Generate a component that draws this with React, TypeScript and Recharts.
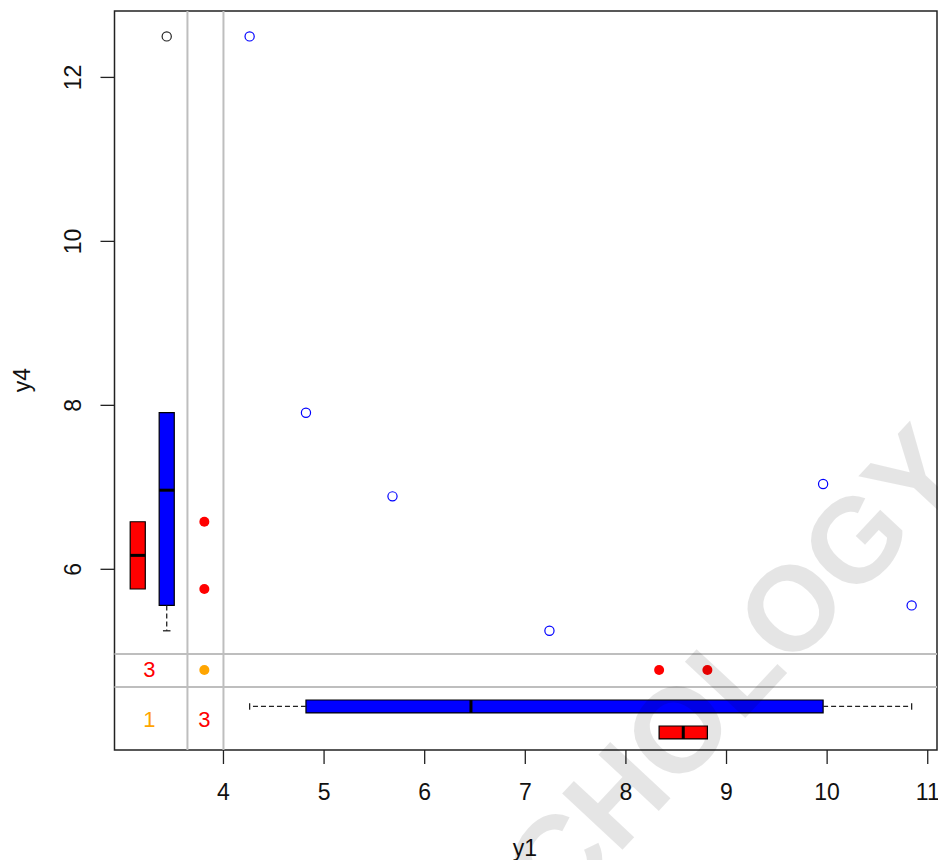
import React from "react";
import {
  ComposedChart,
  XAxis,
  YAxis,
  Scatter,
  ReferenceArea,
  ReferenceLine,
} from "recharts";

// paired values, null = missing
const y1: (number | null)[] = [null, null, null, 8.81, 8.33, 9.96, 7.24, 4.26, 10.84, 4.82, 5.68];
const y4: (number | null)[] = [6.58, 5.76, null, null, null, 7.04, 5.25, 12.5, 5.56, 7.91, 6.89];

const xTicks = [4, 5, 6, 7, 8, 9, 10, 11];
const yTicks = [6, 8, 10, 12];

const X_DOMAIN: [number, number] = [2.917, 11.092];
const Y_DOMAIN: [number, number] = [3.796, 12.81];

// margin layout, in data units
const X_MISS = 3.81; // column where missing y1 are drawn
const Y_MISS = 4.772; // row where missing y4 are drawn
const X_SEP = [3.642, 4.0];
const Y_SEP = [4.565, 4.967];
const X_COUNT = 3.264;
const Y_COUNT = 4.162;
const LEFT_BOX = { red: 3.148, blue: 3.436, half: 0.075 };
const BOTTOM_BOX = { blue: 4.327, red: 4.01, half: 0.079 };

const BLUE = "#0000ff";
const RED = "#ff0000";
const ORANGE = "#ffa500";
const FONT = "'Liberation Sans', Arial, sans-serif";

function fivenum(vals: number[]) {
  const x = [...vals].sort((a, b) => a - b);
  const n = x.length;
  const n4 = Math.floor((n + 3) / 2) / 2;
  const d = [1, n4, (n + 1) / 2, n + 1 - n4, n];
  return d.map((v) => 0.5 * (x[Math.floor(v) - 1] + x[Math.ceil(v) - 1]));
}

function boxStats(vals: number[]) {
  const [, q1, med, q3] = fivenum(vals);
  const iqr = q3 - q1;
  const inside = vals.filter((v) => v >= q1 - 1.5 * iqr && v <= q3 + 1.5 * iqr);
  return {
    q1,
    med,
    q3,
    lo: Math.min(...inside),
    hi: Math.max(...inside),
    out: vals.filter((v) => v < q1 - 1.5 * iqr || v > q3 + 1.5 * iqr),
  };
}

const idx = y1.map((_, i) => i);
const both = idx.filter((i) => y1[i] != null && y4[i] != null);
const y1Miss = idx.filter((i) => y1[i] == null && y4[i] != null);
const y4Miss = idx.filter((i) => y4[i] == null && y1[i] != null);
const allMiss = idx.filter((i) => y1[i] == null && y4[i] == null);

const obsPts = both.map((i) => ({ x: y1[i] as number, y: y4[i] as number }));
const y1MissPts = y1Miss.map((i) => ({ x: X_MISS, y: y4[i] as number }));
const y4MissPts = y4Miss.map((i) => ({ x: y1[i] as number, y: Y_MISS }));
const allMissPts = allMiss.map(() => ({ x: X_MISS, y: Y_MISS }));

const leftBlue = boxStats(both.map((i) => y4[i] as number));
const leftRed = boxStats(y1Miss.map((i) => y4[i] as number));
const botBlue = boxStats(both.map((i) => y1[i] as number));
const botRed = boxStats(y4Miss.map((i) => y1[i] as number));

const outPts = leftBlue.out.map((v) => ({ x: LEFT_BOX.blue, y: v }));

const counts = [
  { x: X_COUNT, y: Y_MISS, label: String(y4.filter((v) => v == null).length), color: RED },
  { x: X_MISS, y: Y_COUNT, label: String(y1.filter((v) => v == null).length), color: RED },
  { x: X_COUNT, y: Y_COUNT, label: String(allMiss.length), color: ORANGE },
];

const WHISK = { stroke: "#222", strokeWidth: 1.3 };

function vBox(s: ReturnType<typeof boxStats>, c: number, h: number, fill: string, key: string) {
  const els = [
    <ReferenceArea key={key + "b"} x1={c - h} x2={c + h} y1={s.q1} y2={s.q3} fill={fill} fillOpacity={1} stroke="#000" strokeWidth={1.2} />,
    <ReferenceLine key={key + "m"} segment={[{ x: c - h, y: s.med }, { x: c + h, y: s.med }]} stroke="#000" strokeWidth={3} />,
  ];
  if (s.lo < s.q1) {
    els.push(<ReferenceLine key={key + "wl"} segment={[{ x: c, y: s.q1 }, { x: c, y: s.lo }]} {...WHISK} strokeDasharray="5 3" />);
    els.push(<ReferenceLine key={key + "sl"} segment={[{ x: c - h / 2, y: s.lo }, { x: c + h / 2, y: s.lo }]} {...WHISK} />);
  }
  if (s.hi > s.q3) {
    els.push(<ReferenceLine key={key + "wh"} segment={[{ x: c, y: s.q3 }, { x: c, y: s.hi }]} {...WHISK} strokeDasharray="5 3" />);
    els.push(<ReferenceLine key={key + "sh"} segment={[{ x: c - h / 2, y: s.hi }, { x: c + h / 2, y: s.hi }]} {...WHISK} />);
  }
  return els;
}

function hBox(s: ReturnType<typeof boxStats>, c: number, h: number, fill: string, key: string) {
  const els = [
    <ReferenceArea key={key + "b"} y1={c - h} y2={c + h} x1={s.q1} x2={s.q3} fill={fill} fillOpacity={1} stroke="#000" strokeWidth={1.2} />,
    <ReferenceLine key={key + "m"} segment={[{ y: c - h, x: s.med }, { y: c + h, x: s.med }]} stroke="#000" strokeWidth={3} />,
  ];
  if (s.lo < s.q1) {
    els.push(<ReferenceLine key={key + "wl"} segment={[{ y: c, x: s.q1 }, { y: c, x: s.lo }]} {...WHISK} strokeDasharray="5 3" />);
    els.push(<ReferenceLine key={key + "sl"} segment={[{ y: c - h / 2, x: s.lo }, { y: c + h / 2, x: s.lo }]} {...WHISK} />);
  }
  if (s.hi > s.q3) {
    els.push(<ReferenceLine key={key + "wh"} segment={[{ y: c, x: s.q3 }, { y: c, x: s.hi }]} {...WHISK} strokeDasharray="5 3" />);
    els.push(<ReferenceLine key={key + "sh"} segment={[{ y: c - h / 2, x: s.hi }, { y: c + h / 2, x: s.hi }]} {...WHISK} />);
  }
  return els;
}

const openCircle = (color: string) => (p: any) => (
  <circle cx={p.cx} cy={p.cy} r={4.6} fill="none" stroke={color} strokeWidth={1.2} />
);
const dot = (color: string) => (p: any) => <circle cx={p.cx} cy={p.cy} r={5} fill={color} />;

const XTick = (p: any) => (
  <text x={p.x} y={p.y + 26} textAnchor="middle" dominantBaseline="central" fontSize={23} fill="#111" fontFamily={FONT}>
    {p.payload.value}
  </text>
);

const YTick = (p: any) => {
  const cx = p.x - 25;
  return (
    <text
      x={cx}
      y={p.y}
      transform={`rotate(-90, ${cx}, ${p.y})`}
      textAnchor="middle"
      dominantBaseline="central"
      fontSize={23}
      fill="#111"
      fontFamily={FONT}
    >
      {p.payload.value}
    </text>
  );
};

export default function App() {
  return (
    <div style={{ position: "relative", width: 938, height: 860, background: "#fff" }}>
      <style>{"body{margin:0}"}</style>
      <ComposedChart width={938} height={860} margin={{ top: 11, right: 1, bottom: 30, left: 0 }}>
        <XAxis
          type="number"
          dataKey="x"
          domain={X_DOMAIN}
          ticks={xTicks}
          interval={0}
          allowDataOverflow
          height={80}
          axisLine={false}
          tickSize={14}
          tickLine={{ stroke: "#222", strokeWidth: 1.3 }}
          tick={XTick}
        />
        <YAxis
          type="number"
          dataKey="y"
          domain={Y_DOMAIN}
          ticks={yTicks}
          interval={0}
          allowDataOverflow
          width={114.5}
          axisLine={false}
          tickSize={14}
          tickLine={{ stroke: "#222", strokeWidth: 1.3 }}
          tick={YTick}
        />
        {X_SEP.map((v) => (
          <ReferenceLine key={"xs" + v} x={v} stroke="#bebebe" strokeWidth={2} />
        ))}
        {Y_SEP.map((v) => (
          <ReferenceLine key={"ys" + v} y={v} stroke="#bebebe" strokeWidth={2} />
        ))}
        {vBox(leftRed, LEFT_BOX.red, LEFT_BOX.half, RED, "lr")}
        {vBox(leftBlue, LEFT_BOX.blue, LEFT_BOX.half, BLUE, "lb")}
        {hBox(botBlue, BOTTOM_BOX.blue, BOTTOM_BOX.half, BLUE, "bb")}
        {hBox(botRed, BOTTOM_BOX.red, BOTTOM_BOX.half, RED, "br")}
        <ReferenceArea
          x1={X_DOMAIN[0]}
          x2={X_DOMAIN[1]}
          y1={Y_DOMAIN[0]}
          y2={Y_DOMAIN[1]}
          fill="none"
          stroke="#222"
          strokeWidth={1.5}
          ifOverflow="visible"
        />
        <Scatter data={obsPts} shape={openCircle(BLUE)} isAnimationActive={false} />
        <Scatter data={outPts} shape={openCircle("#222")} isAnimationActive={false} />
        <Scatter data={y1MissPts} shape={dot(RED)} isAnimationActive={false} />
        <Scatter data={y4MissPts} shape={dot(RED)} isAnimationActive={false} />
        <Scatter data={allMissPts} shape={dot(ORANGE)} isAnimationActive={false} />
        <Scatter
          data={counts}
          isAnimationActive={false}
          shape={(p: any) => (
            <text x={p.cx} y={p.cy} textAnchor="middle" dominantBaseline="central" fontSize={22} fill={p.payload.color} fontFamily={FONT}>
              {p.payload.label}
            </text>
          )}
        />
      </ComposedChart>
      <svg width={938} height={860} style={{ position: "absolute", left: 0, top: 0, pointerEvents: "none" }}>
        <text x={525} y={848} textAnchor="middle" dominantBaseline="central" fontSize={23} fill="#111" fontFamily={FONT}>
          y1
        </text>
        <text
          x={22}
          y={380}
          transform="rotate(-90, 22, 380)"
          textAnchor="middle"
          dominantBaseline="central"
          fontSize={23}
          fill="#111"
          fontFamily={FONT}
        >
          y4
        </text>
        <text
          transform="translate(683,785) rotate(-47)"
          textAnchor="middle"
          fontSize={120}
          fontWeight="bold"
          fill="#000"
          fillOpacity={0.1}
          fontFamily={FONT}
        >
          PSYCHOLOGY
        </text>
      </svg>
    </div>
  );
}
